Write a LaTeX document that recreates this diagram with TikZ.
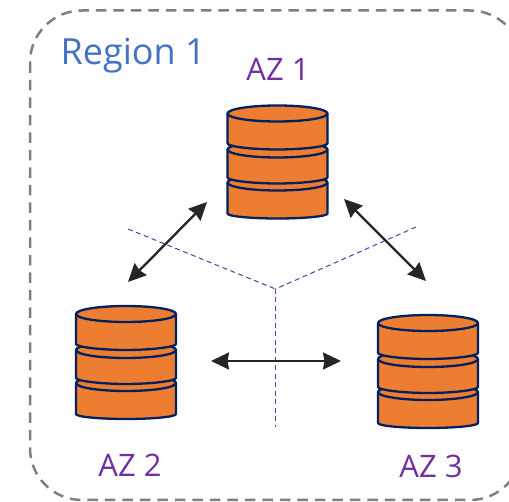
\documentclass[tikz,border=0pt]{standalone}
\usepackage{fontspec}
\setmainfont{Open Sans}
\usetikzlibrary{arrows.meta}
\definecolor{regionblue}{HTML}{4472C4}
\definecolor{azpurple}{HTML}{7030A0}
\definecolor{dborange}{HTML}{ED7D31}
\definecolor{dbnavy}{HTML}{002060}
\definecolor{boxgray}{HTML}{7F7F7F}
\definecolor{arrowdark}{HTML}{262626}
\tikzset{
  regionbox/.style={draw=boxgray,line width=2.5pt,dash pattern=on 10.5pt off 7pt,rounded corners=52pt},
  disc/.style={draw=dbnavy,fill=dborange,line width=2.3pt,line join=round},
  azlabel/.style={text=azpurple,font=\fontsize{31}{36}\selectfont,inner sep=0pt},
  regionlabel/.style={text=regionblue,font=\fontsize{36}{40}\selectfont,inner sep=0pt},
  twoway/.style={draw=arrowdark,line width=2.3pt,{Stealth[length=18pt,width=17pt,inset=1.5pt]}-{Stealth[length=18pt,width=17pt,inset=1.5pt]}},
  divider/.style={draw=azpurple,line width=1pt,dash pattern=on 5pt off 3.5pt},
  pics/dbstack/.style={code={
    % bottom disc
    \path[disc] (-50,69) -- (-50,100) .. controls (-50,103) and (-25,105) .. (0,105)
      .. controls (25,105) and (50,103) .. (50,100) -- (50,69) -- cycle;
    \path[disc] (0,69) ellipse [x radius=50,y radius=8];
    % middle disc
    \path[disc] (-50,36) -- (-50,64) .. controls (-50,67) and (-25,70) .. (0,70)
      .. controls (25,70) and (50,67) .. (50,64) -- (50,36) -- cycle;
    \path[disc] (0,36) ellipse [x radius=50,y radius=8];
    % top disc
    \path[disc] (-50,0) -- (-50,30) .. controls (-50,33) and (-25,36) .. (0,36)
      .. controls (25,36) and (50,33) .. (50,30) -- (50,0) -- cycle;
    \path[disc] (0,0) ellipse [x radius=50,y radius=8];
  }}
}
\begin{document}
\begin{tikzpicture}[x=1pt,y=-1pt]
\useasboundingbox (0,0) rectangle (509,502);
\begin{scope}
\clip (0,0) rectangle (509,502);
\draw[regionbox] (30,10.5) rectangle (522,500);
\end{scope}
\node[regionlabel,anchor=base west] (region) at (60.5,65) {Region 1};
\node[azlabel,anchor=base] (az1) at (278,81) {AZ 1};
\node[azlabel,anchor=base] (az2) at (130,477) {AZ 2};
\node[azlabel,anchor=base] (az3) at (431,478) {AZ 3};

\pic at (277.5,113.5) {dbstack};
\pic at (126,314) {dbstack};
\pic at (428,323) {dbstack};

\coordinate (hub) at (275.5,289);
\coordinate (divL) at (128,229);
\coordinate (divR) at (416,227);
\coordinate (divB) at (275.5,427);
\draw[divider] (divL) -- (hub);
\draw[divider] (divR) -- (hub);
\draw[divider] (hub) -- (divB);

\coordinate (a12) at (207,202);
\coordinate (a21) at (128,282);
\coordinate (a13) at (344,199);
\coordinate (a31) at (426,281);
\coordinate (a23) at (211,361);
\coordinate (a32) at (341,361);
\draw[twoway] (a12) -- (a21);
\draw[twoway] (a13) -- (a31);
\draw[twoway] (a23) -- (a32);
\end{tikzpicture}
\end{document}
